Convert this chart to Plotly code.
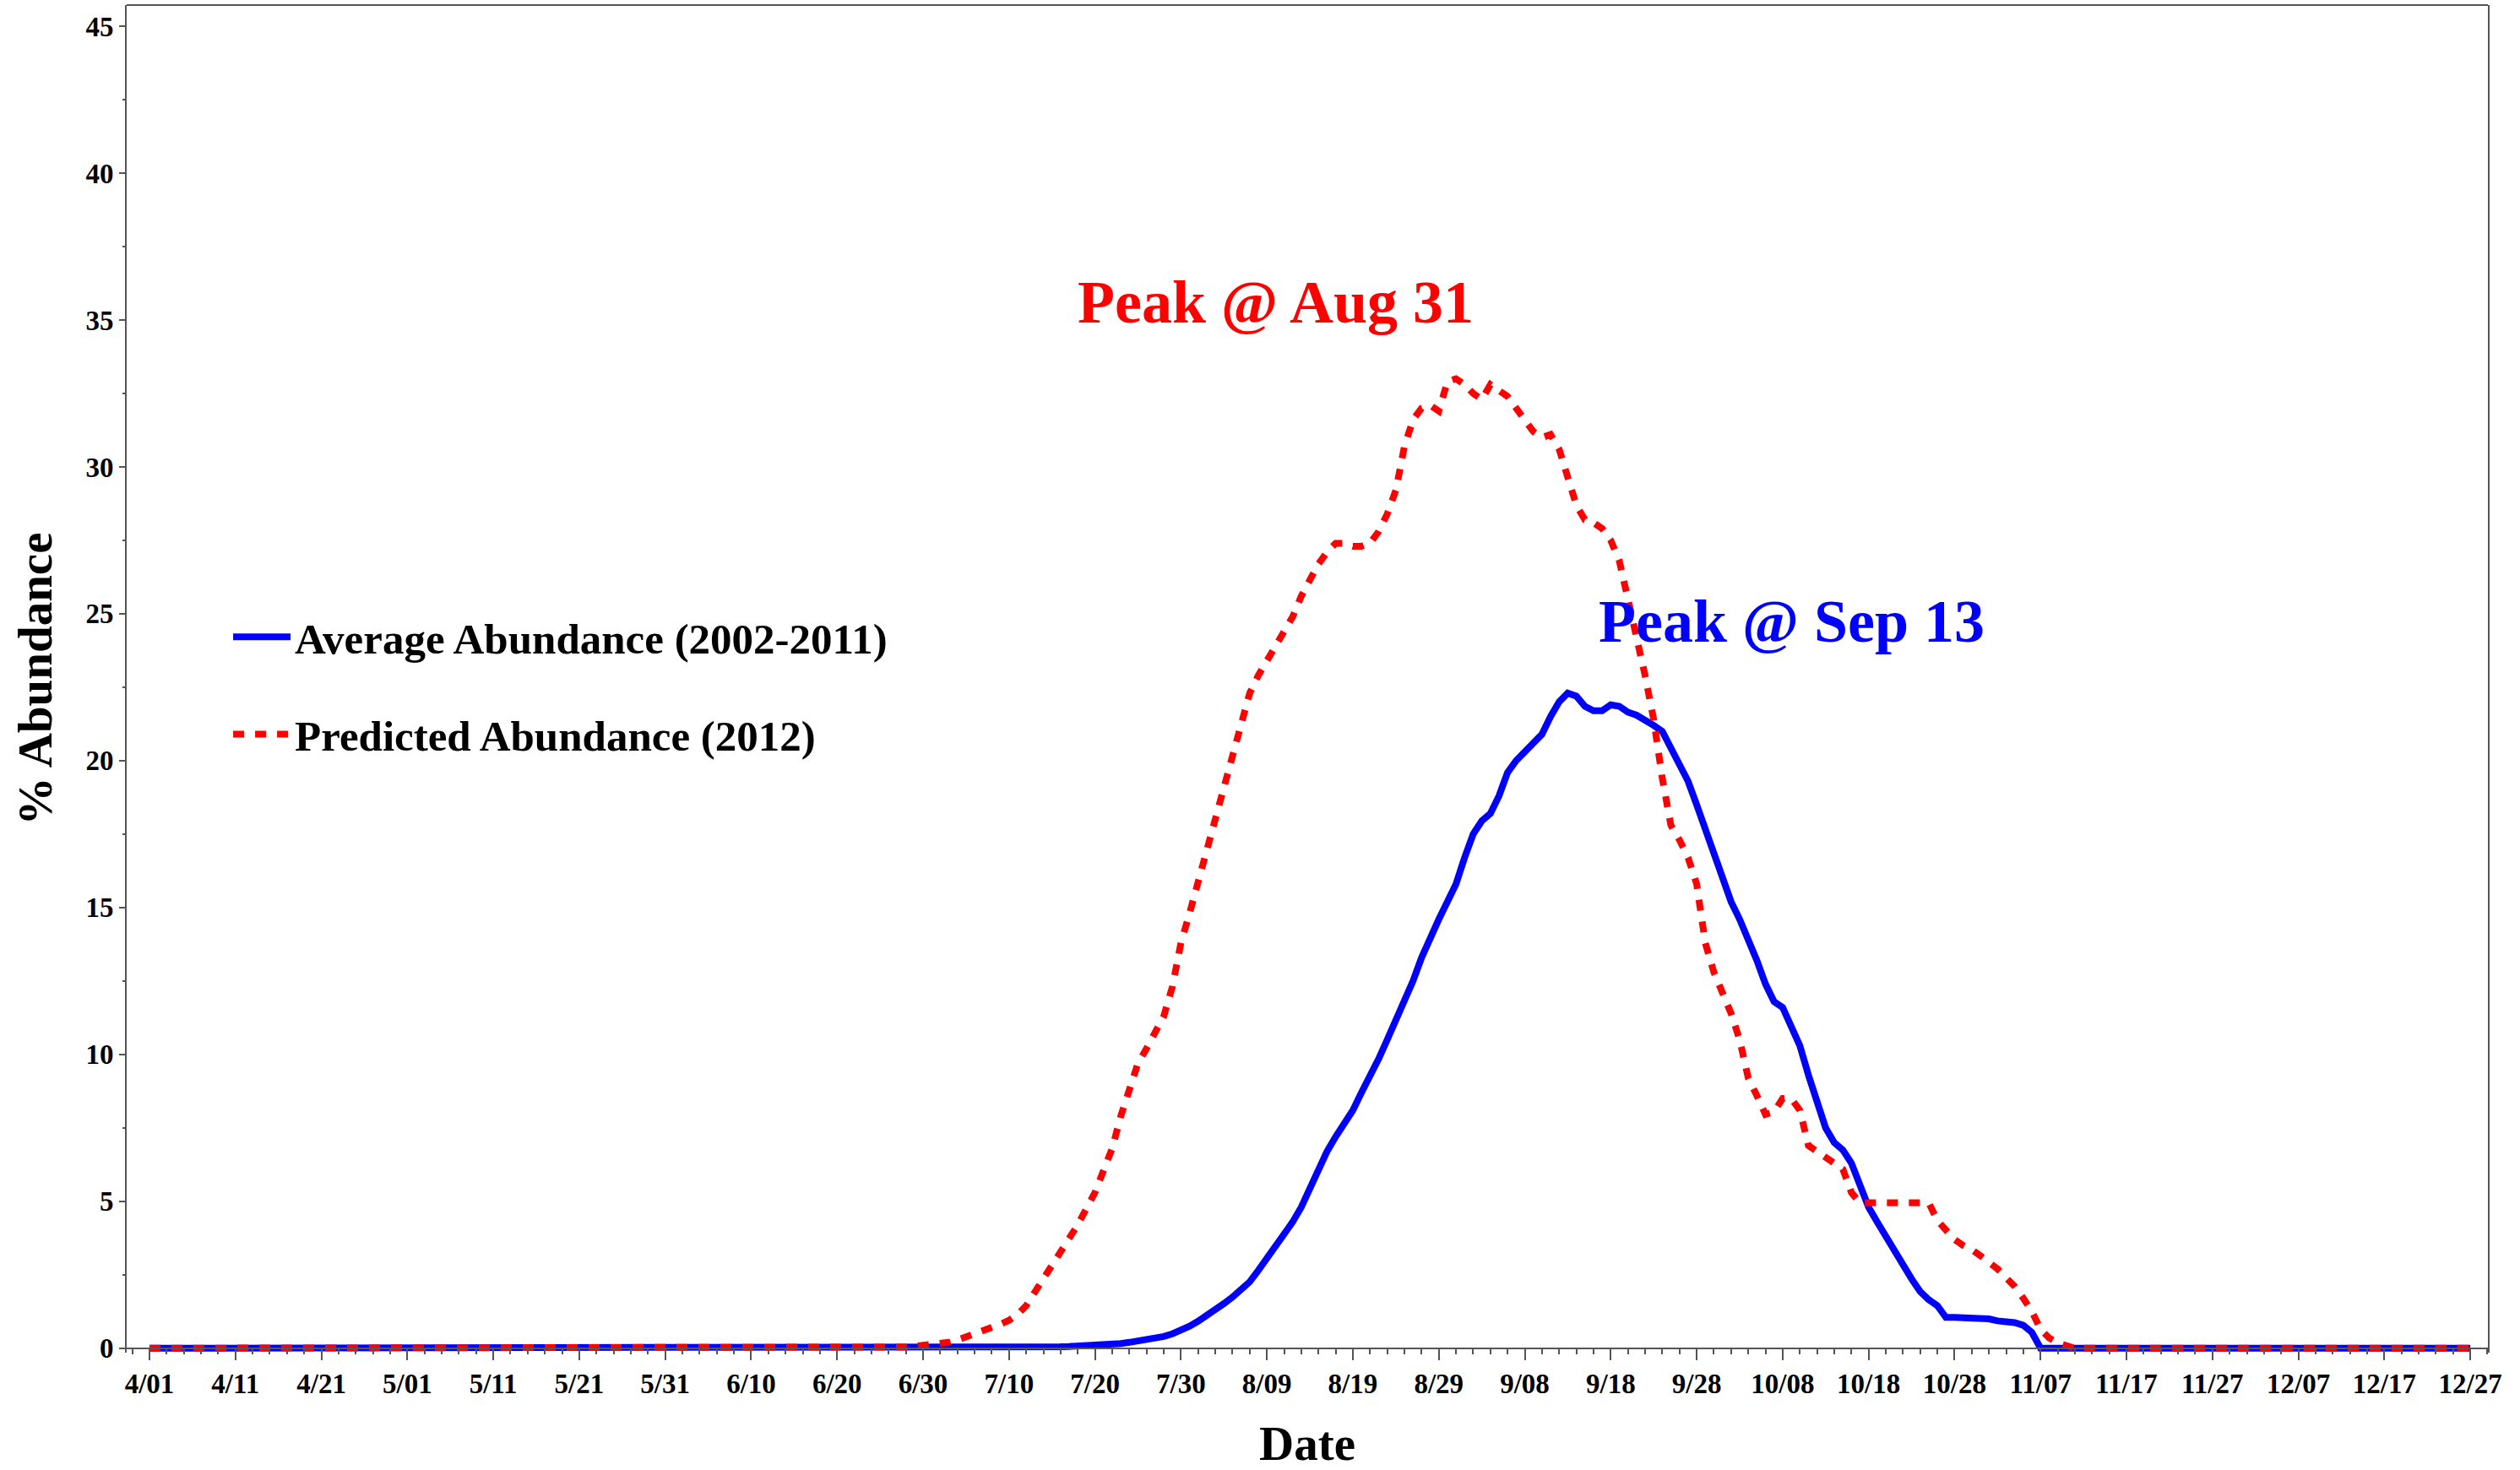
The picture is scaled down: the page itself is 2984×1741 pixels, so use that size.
import plotly.graph_objects as go
import pandas as pd

# ---- data (daily values, 2012-04-01 .. 2012-12-27) ----
start_date = "2012-04-01"
n_days = 271

avg_abundance = [
    # Apr 1 - Jul 9 (days 0-99)
    0, 0, 0, 0, 0, 0, 0, 0, 0, 0,
    0, 0, 0, 0, 0, 0, 0, 0, 0, 0,
    0, 0, 0, 0, 0, 0, 0, 0, 0, 0,
    0, 0, 0, 0, 0, 0, 0, 0, 0, 0,
    0, 0, 0, 0, 0, 0, 0, 0, 0, 0,
    0, 0, 0, 0, 0, 0, 0, 0, 0, 0,
    0, 0, 0, 0, 0, 0, 0, 0, 0, 0,
    0, 0, 0, 0, 0, 0, 0, 0, 0, 0,
    0, 0, 0, 0, 0, 0, 0, 0, 0, 0,
    0, 0, 0, 0, 0, 0, 0, 0, 0, 0,
    # days 100-109
    0.0, 0.0, 0.01, 0.02, 0.03, 0.04, 0.05, 0.06, 0.07, 0.08,
    0.09, 0.11, 0.13, 0.16, 0.2, 0.24, 0.28, 0.34, 0.4, 0.49,
    0.6, 0.75, 0.92, 1.1, 1.32, 1.52, 1.74, 1.98, 2.26, 2.65,
    3.05, 3.45, 3.85, 4.3, 4.8, 5.45, 6.1, 6.7, 7.2, 7.65,
    8.1, 8.7, 9.25, 9.85, 10.5, 11.15, 11.8, 12.5, 13.3, 14.0,
    14.6, 15.2, 15.8, 16.7, 17.5, 17.95, 18.2, 18.8, 19.6, 20.0,
    20.3, 20.6, 20.9, 21.5, 22.0, 22.3, 22.2, 21.85, 21.7, 21.7,
    21.9, 21.85, 21.65, 21.55, 21.4, 21.2, 21.0, 20.4, 19.8, 19.3,
    18.5, 17.7, 16.9, 16.0, 15.2, 14.6, 13.95, 13.2, 12.4, 11.8,
    11.6, 11.0, 10.3, 9.3, 8.3, 7.5, 7.0, 6.75, 6.3, 5.5,
    4.8, 4.3, 3.8, 3.27, 2.8, 2.36, 1.93, 1.65, 1.45, 1.05,
    1.05, 1.04, 1.03, 1.02, 1.0, 0.93, 0.9, 0.87, 0.78, 0.54,
    # days 220-270
    0, 0, 0, 0, 0, 0, 0, 0, 0, 0,
    0, 0, 0, 0, 0, 0, 0, 0, 0, 0,
    0, 0, 0, 0, 0, 0, 0, 0, 0, 0,
    0, 0, 0, 0, 0, 0, 0, 0, 0, 0,
    0, 0, 0, 0, 0, 0, 0, 0, 0, 0,
    0,
]

pred_abundance = [
    # days 0-89
    0, 0, 0, 0, 0, 0, 0, 0, 0, 0,
    0, 0, 0, 0, 0, 0, 0, 0, 0, 0,
    0, 0, 0, 0, 0, 0, 0, 0, 0, 0,
    0, 0, 0, 0, 0, 0, 0, 0, 0, 0,
    0, 0, 0, 0, 0, 0, 0, 0, 0, 0,
    0, 0, 0, 0, 0, 0, 0, 0, 0, 0,
    0, 0, 0, 0, 0, 0, 0, 0, 0, 0,
    0, 0, 0, 0, 0, 0, 0, 0, 0, 0,
    0, 0, 0, 0, 0, 0, 0.0, 0.02, 0.04, 0.07,
    # days 90-99
    0.1, 0.12, 0.14, 0.2, 0.28, 0.38, 0.5, 0.62, 0.72, 0.82,
    0.95, 1.15, 1.45, 1.9, 2.35, 2.8, 3.2, 3.7, 4.2, 4.75,
    5.3, 6.05, 6.8, 7.9, 8.9, 9.7, 10.2, 10.7, 11.3, 12.3,
    13.8, 14.8, 15.9, 16.9, 17.9, 19.0, 20.3, 21.2, 22.3, 22.9,
    23.4, 23.8, 24.4, 24.9, 25.6, 26.2, 26.7, 27.1, 27.4, 27.4,
    27.3, 27.3, 27.4, 27.8, 28.4, 29.2, 30.7, 31.6, 32.0, 32.1,
    31.9, 32.9, 33.0, 32.8, 32.5, 32.3, 32.8, 32.6, 32.4, 32.0,
    31.6, 31.2, 31.0, 31.1, 30.6, 29.6, 28.7, 28.2, 28.1, 27.9,
    27.5, 26.8, 25.6, 24.2, 22.9, 21.4, 19.4, 17.8, 17.3, 16.7,
    15.8, 13.8, 12.8, 12.1, 11.4, 10.5, 9.2, 8.6, 7.96, 8.05,
    8.5, 8.5, 8.1, 6.9, 6.7, 6.55, 6.3, 6.1, 5.3, 4.95,
    4.95, 4.95, 4.95, 4.95, 4.95, 4.95, 4.95, 4.95, 4.35, 4.0,
    3.7, 3.5, 3.36, 3.15, 2.95, 2.7, 2.4, 2.1, 1.7, 1.25,
    0.65, 0.35, 0.18, 0.06, 0, 0, 0, 0, 0, 0,
    # days 230-270
    0, 0, 0, 0, 0, 0, 0, 0, 0, 0,
    0, 0, 0, 0, 0, 0, 0, 0, 0, 0,
    0, 0, 0, 0, 0, 0, 0, 0, 0, 0,
    0, 0, 0, 0, 0, 0, 0, 0, 0, 0,
    0,
]

series_names = ["Average Abundance (2002-2011)", "Predicted Abundance (2012)"]
peak_labels = ["Peak @ Aug 31", "Peak @ Sep 13"]
y_ticks = [0, 5, 10, 15, 20, 25, 30, 35, 40, 45]

dates = pd.date_range(start_date, periods=n_days, freq="D")

FONT = "Liberation Serif, Times New Roman, serif"
AX = "#555555"

fig = go.Figure()
fig.add_trace(go.Scatter(
    x=dates, y=avg_abundance, mode="lines", name=series_names[0],
    legendgroup="a",
    line=dict(color="#0000FF", width=8),
))
fig.add_trace(go.Scatter(
    x=dates, y=pred_abundance, mode="lines", name=series_names[1],
    legendgroup="b",
    line=dict(color="#FF0000", width=8, dash="13px,13px"),
))

ymin, ymax = -0.15, 45.72

fig.update_layout(
    width=2984, height=1741,
    margin=dict(l=150, r=38, t=6, b=139, autoexpand=False),
    paper_bgcolor="white", plot_bgcolor="white",
    font=dict(family=FONT, color="black"),
    showlegend=True,
    legend=dict(
        x=0.0433, xanchor="left", y=0.556, yanchor="top",
        font=dict(family=FONT, size=51, color="black", weight="bold"),
        bgcolor="rgba(0,0,0,0)", borderwidth=0,
        tracegroupgap=46, itemwidth=68,
    ),
    xaxis=dict(
        type="date",
        range=["2012-03-29 08:24", "2012-12-29 01:12"],
        tick0=start_date, dtick=10 * 86400000,
        tickformat="%-m/%d",
        ticks="outside", ticklen=13, tickwidth=2, tickcolor=AX,
        showline=True, linecolor=AX, linewidth=2,
        anchor="free", position=(0 - ymin) / (ymax - ymin),
        showgrid=False, zeroline=False, automargin=False,
        tickfont=dict(family=FONT, size=33, color="black", weight="bold"),
        minor=dict(dtick=2 * 86400000, ticks="outside", ticklen=6,
                   tickwidth=2, tickcolor=AX, showgrid=False),
        title=dict(text="Date", standoff=46,
                   font=dict(family=FONT, size=57, color="black", weight="bold")),
    ),
    yaxis=dict(
        range=[ymin, ymax],
        tickvals=y_ticks,
        ticks="outside", ticklen=7, tickwidth=2, tickcolor=AX,
        showline=True, linecolor=AX, linewidth=2, mirror=True,
        showgrid=False, zeroline=False, automargin=False,
        tickfont=dict(family=FONT, size=33, color="black", weight="bold"),
        minor=dict(dtick=2.5, ticks="outside", ticklen=3.5,
                   tickwidth=2, tickcolor=AX, showgrid=False),
        title=dict(text="% Abundance", standoff=21,
                   font=dict(family=FONT, size=57, color="black", weight="bold")),
    ),
    shapes=[dict(type="line", xref="paper", yref="paper", x0=0, x1=1, y0=1, y1=1,
                 line=dict(color=AX, width=2))],
    annotations=[
        dict(x="2012-08-10", y=35.6, xref="x", yref="y", text=peak_labels[0],
             showarrow=False, xanchor="center", yanchor="middle",
             font=dict(family=FONT, size=72, color="#FF0000", weight="bold")),
        dict(x="2012-10-09", y=24.74, xref="x", yref="y", text=peak_labels[1],
             showarrow=False, xanchor="center", yanchor="middle",
             font=dict(family=FONT, size=72, color="#0000FF", weight="bold")),
    ],
)

fig.write_html(
    "out.html",
    config={"displayModeBar": False},
    post_script="document.body.style.margin='0px';document.body.style.overflow='hidden';",
)
